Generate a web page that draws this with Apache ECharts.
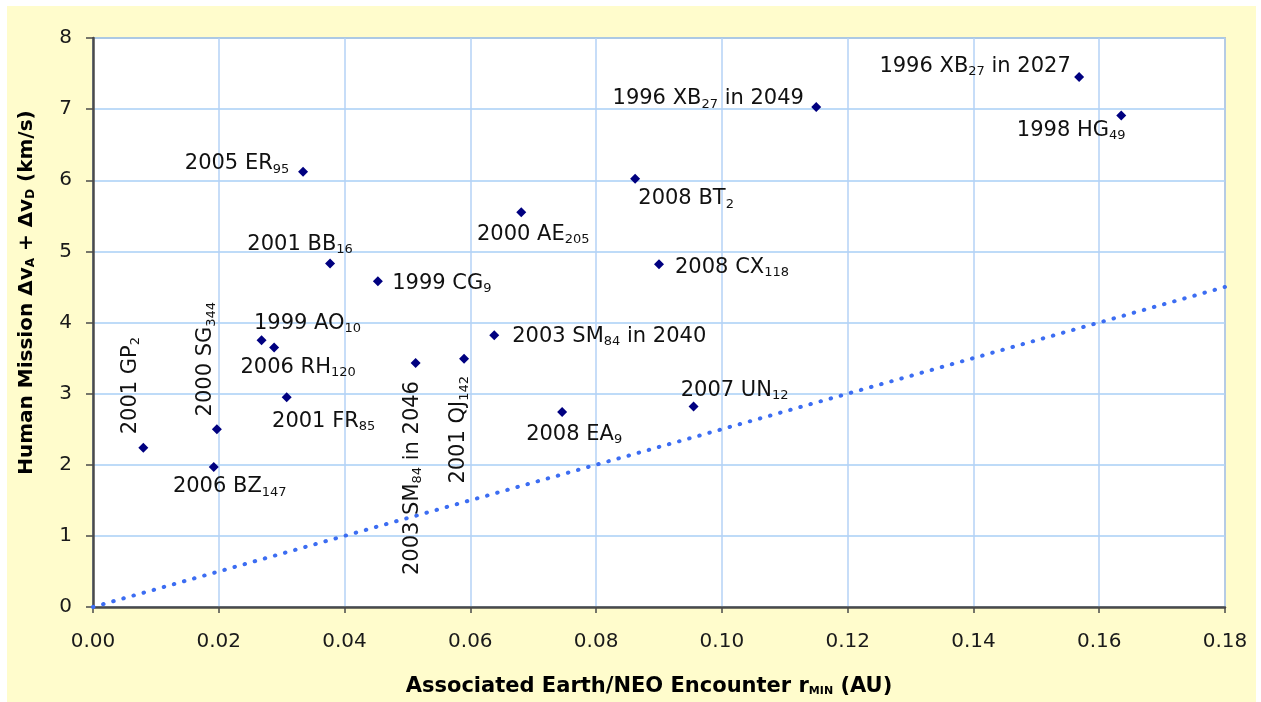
<!DOCTYPE html>
<html>
<head>
<meta charset="utf-8">
<title>Human mission delta-v vs encounter distance</title>
<script src="https://cdn.jsdelivr.net/npm/echarts@6/dist/echarts.min.js"></script>
<style>
  html, body { margin: 0; padding: 0; background: #ffffff; }
  #chart { position: absolute; left: 7px; top: 6px; width: 1249px; height: 696px; }
</style>
</head>
<body>
<div id="chart"></div>
<script>
  // 数据：每个近地天体的 r_min (AU) 和 Δv (km/s)
  var rMin = [0.0080, 0.0197, 0.0192, 0.0268, 0.0288, 0.0308, 0.0334, 0.0377, 0.0453, 0.0513,
    0.0590, 0.0638, 0.0681, 0.0746, 0.0862, 0.0900, 0.0955, 0.1150, 0.1568, 0.1635];
  var deltaV = [2.24, 2.50, 1.97, 3.75, 3.65, 2.95, 6.12, 4.83, 4.58, 3.43,
    3.49, 3.82, 5.55, 2.74, 6.02, 4.82, 2.82, 7.03, 7.45, 6.91];
  // 名称，{s|..} 为下标
  var neoNames = [
    '2001 GP{s|2}', '2000 SG{s|344}', '2006 BZ{s|147}', '1999 AO{s|10}', '2006 RH{s|120}',
    '2001 FR{s|85}', '2005 ER{s|95}', '2001 BB{s|16}', '1999 CG{s|9}', '2003 SM{s|84} in 2046',
    '2001 QJ{s|142}', '2003 SM{s|84} in 2040', '2000 AE{s|205}', '2008 EA{s|9}', '2008 BT{s|2}',
    '2008 CX{s|118}', '2007 UN{s|12}', '1996 XB{s|27} in 2049', '1996 XB{s|27} in 2027', '1998 HG{s|49}'
  ];
  // 趋势线 (虚线)
  var trendX = [0, 0.18];
  var trendY = [0, 4.5];

  // 标签相对点的偏移 [dx, dy, 旋转]
  var labelShift = [
    [-13, -62, 90], [-11, -70, 90], [16, 20, 0], [46, -17, 0], [24, 20, 0],
    [37, 24, 0], [-66, -8, 0], [-30, -19, 0], [64, 2, 0], [-3, 115, 90],
    [-5, 71, 90], [115, 1, 0], [12, 22, 0], [12, 22, 0], [51, 20, 0],
    [73, 3, 0], [41, -16, 0], [-108, -8, 0], [-104, -11, 0], [-50, 15, 0]
  ];

  var symSize = 10;
  var points = [];
  for (var i = 0; i < rMin.length; i++) {
    var sh = labelShift[i];
    points.push({
      value: [rMin[i], deltaV[i]],
      name: neoNames[i],
      label: {
        position: [symSize / 2 + sh[0], symSize / 2 + sh[1]],
        rotate: sh[2]
      }
    });
  }

  var trendData = [];
  for (var j = 0; j < trendX.length; j++) {
    trendData.push([trendX[j], trendY[j]]);
  }

  var baseFont = 'DejaVu Sans, Verdana, sans-serif';

  var chart = echarts.init(document.getElementById('chart'));
  var option = {
    animation: false,
    backgroundColor: '#fffccc',
    textStyle: { fontFamily: baseFont },
    grid: {
      left: 86,
      top: 32,
      right: 31,
      bottom: 95,
      outerBoundsMode: 'none',
      show: true,
      backgroundColor: '#ffffff',
      borderColor: '#a0a0a0',
      borderWidth: 1.5
    },
    xAxis: {
      type: 'value',
      min: 0,
      max: 0.18,
      interval: 0.02,
      name: 'Associated Earth/NEO Encounter r{s|MIN} (AU)',
      nameLocation: 'middle',
      nameGap: 69,
      nameTextStyle: {
        fontFamily: baseFont,
        fontWeight: 'bold',
        fontSize: 21,
        color: '#000',
        padding: [0, 20, 0, 0],
        rich: {
          s: { fontSize: 11, fontWeight: 'bold', verticalAlign: 'bottom', lineHeight: 8, fontFamily: baseFont }
        }
      },
      axisLine: { show: true, lineStyle: { color: '#4a4a4a', width: 2.5 } },
      axisTick: { show: true, length: 6, lineStyle: { color: '#4a4a4a', width: 1.5 } },
      axisLabel: {
        margin: 25,
        fontSize: 20,
        color: '#1a1a1a',
        formatter: function (v) { return v.toFixed(2); }
      },
      splitLine: { show: true, lineStyle: { color: '#b4d2f6', width: 1.5 } }
    },
    yAxis: {
      type: 'value',
      min: 0,
      max: 8,
      interval: 1,
      name: 'Human Mission Δv{s|A} + Δv{s|D} (km/s)',
      nameLocation: 'middle',
      nameGap: 56,
      nameTextStyle: {
        fontFamily: baseFont,
        fontWeight: 'bold',
        fontSize: 20,
        color: '#000',
        padding: [0, 0, 0, 60],
        rich: {
          s: { fontSize: 12, fontWeight: 'bold', verticalAlign: 'bottom', lineHeight: 9, fontFamily: baseFont }
        }
      },
      axisLine: { show: true, lineStyle: { color: '#4a4a4a', width: 2.5 } },
      axisTick: { show: true, length: 7, lineStyle: { color: '#4a4a4a', width: 1.5 } },
      axisLabel: { margin: 21, fontSize: 20, color: '#1a1a1a' },
      splitLine: { show: true, lineStyle: { color: '#a8cff6', width: 1.5 } }
    },
    series: [{
      name: 'trend',
      type: 'line',
      data: trendData,
      showSymbol: false,
      silent: true,
      z: 1,
      lineStyle: { color: '#3c6df2', width: 4, type: [0.5, 10], cap: 'round' }
    }, {
      name: 'NEO',
      type: 'scatter',
      symbol: 'diamond',
      symbolSize: symSize,
      z: 3,
      itemStyle: { color: '#000080', opacity: 1 },
      label: {
        show: true,
        formatter: function (p) { return p.name; },
        align: 'center',
        verticalAlign: 'middle',
        fontSize: 21,
        color: '#111',
        lineHeight: 24,
        fontFamily: baseFont,
        rich: {
          s: { fontSize: 13, lineHeight: 10, verticalAlign: 'bottom', color: '#111', fontFamily: baseFont }
        }
      },
      emphasis: { disabled: true },
      data: points
    }]
  };
  chart.setOption(option);
</script>
</body>
</html>
